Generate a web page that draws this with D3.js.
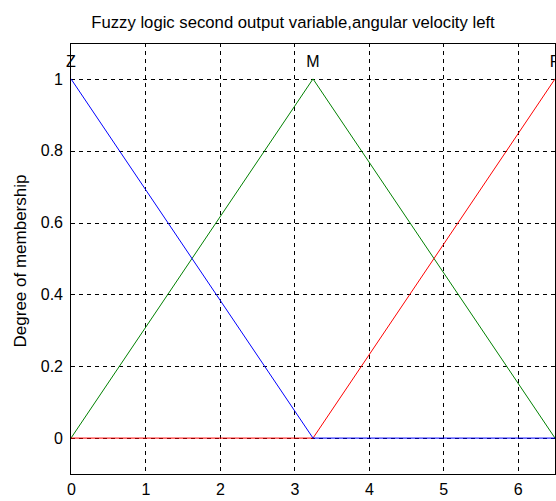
<!DOCTYPE html>
<html><head><meta charset="utf-8">
<script src="https://cdn.jsdelivr.net/npm/d3@7"></script>
<style>body{margin:0;background:#fff}svg{display:block}text{font-family:Arial,"Liberation Sans",sans-serif}</style>
</head><body><svg id="c" width="556" height="501"></svg>
<script>
const title = "Fuzzy logic second output variable,angular velocity left";
const yLabel = "Degree of membership";
const xTicks = [0,1,2,3,4,5,6];
const yTicks = [0,0.2,0.4,0.6,0.8,1];
const mfNames = ["Z","M","P"];
const mfPeaks = [0,3.25,6.5];
const zX = [-3.25,0,3.25,6.5];
const zY = [0,1,0,0];
const mX = [0,3.25,6.5];
const mY = [0,1,0];
const pX = [0,3.25,6.5,9.75];
const pY = [0,0,1,0];
const colors = ["#0000ff","#008000","#ff0000"];

const svg = d3.select("#c");
const L=71, R=555, T=43, B=474;
const FF = "Arial,'Liberation Sans',sans-serif";
const x = d3.scaleLinear().domain([0,6.5]).range([L,R]);
const y = d3.scaleLinear().domain([-0.1,1.1]).range([B,T]);
const defs = svg.append("defs");
defs.append("clipPath").attr("id","pc").append("rect").attr("x",L).attr("y",T).attr("width",R-L).attr("height",B-T);

// grid
const g = svg.append("g");
g.selectAll(".vg").data(xTicks.filter(d=>d>0)).join("line")
  .attr("x1",d=>Math.round(x(d))+0.5).attr("x2",d=>Math.round(x(d))+0.5)
  .attr("y1",T).attr("y2",B).attr("stroke","#000").attr("stroke-dasharray","4,4");
g.selectAll(".hg").data(yTicks).join("line")
  .attr("y1",d=>Math.round(y(d))+0.5).attr("y2",d=>Math.round(y(d))+0.5)
  .attr("x1",L).attr("x2",R).attr("stroke","#000").attr("stroke-dasharray","4,4");

// lines
const series = [[zX,zY],[mX,mY],[pX,pY]];
const line = d3.line().x(d=>x(d[0])).y(d=>y(d[1]));
[1,2,0].forEach(i=>{
  const [xs,ys]=series[i];
  svg.append("path").attr("clip-path","url(#pc)")
    .attr("d",line(xs.map((v,k)=>[v,ys[k]])))
    .attr("fill","none").attr("stroke",colors[i]).attr("stroke-width",1);
});

// axes frame
svg.append("rect").attr("x",L-0.5).attr("y",T+0.5).attr("width",R-L+1).attr("height",B-T)
  .attr("fill","none").attr("stroke","#000").attr("stroke-width",1);

const xAxis = d3.axisBottom(x).tickValues(xTicks).tickSize(0).tickPadding(10).tickFormat(d3.format("d"));
const xa = svg.append("g").attr("transform",`translate(0,${B})`).call(xAxis);
xa.select(".domain").remove();
xa.selectAll("text").attr("font-size",16).attr("fill","#000").attr("font-family",FF);
const yAxis = d3.axisLeft(y).tickValues(yTicks).tickSize(0).tickPadding(8).tickFormat(d=>d===0||d===1?String(d):d3.format(".1f")(d));
const ya = svg.append("g").attr("transform",`translate(${L},0)`).call(yAxis);
ya.select(".domain").remove();
ya.selectAll("text").attr("font-size",16).attr("fill","#000").attr("font-family",FF);

// MF labels
svg.selectAll(".mfl").data(mfNames).join("text")
  .attr("x",(d,i)=>x(mfPeaks[i])).attr("y",y(1.05)).attr("dy","0.35em")
  .attr("text-anchor","middle").attr("font-size",16).text(d=>d);

svg.append("text").attr("x",293).attr("y",28).attr("text-anchor","middle").attr("font-size",16.7).text(title);
svg.append("text").attr("transform",`translate(26,${261}) rotate(-90)`).attr("text-anchor","middle").attr("font-size",17).text(yLabel);
</script></body></html>
